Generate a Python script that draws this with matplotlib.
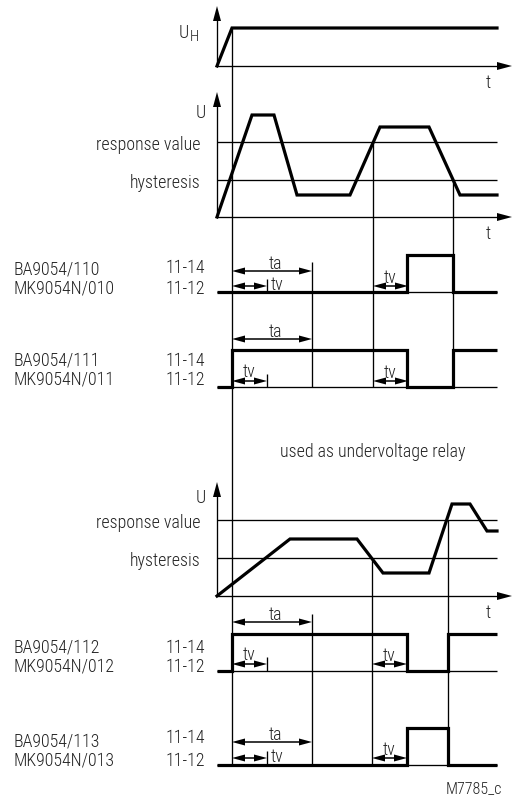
import matplotlib
matplotlib.use('Agg')
import matplotlib.pyplot as plt
from matplotlib.patches import Polygon
from matplotlib import font_manager as fm

# ---- pick a narrow sans font if one is installed ----
_names = {f.name for f in fm.fontManager.ttflist}
FAM, STR = 'DejaVu Sans', 'normal'
for pref in ['Liberation Sans Narrow', 'Roboto Condensed', 'Noto Sans Condensed',
             'Open Sans Condensed', 'Arial Narrow', 'DejaVu Sans Condensed']:
    if pref in _names:
        FAM = pref
        break
else:
    for f in fm.fontManager.ttflist:
        if f.stretch in ('condensed', 'semi-condensed') and f.style == 'normal' \
                and f.name in ('DejaVu Sans', 'Noto Sans', 'Roboto', 'Open Sans', 'Lato', 'Inter'):
            FAM, STR = f.name, f.stretch
            break
plt.rcParams['font.family'] = [FAM, 'DejaVu Sans']
plt.rcParams['font.stretch'] = STR
plt.rcParams['font.weight'] = 'light'

# ---------------- data (time in arbitrary units) ----------------
t_end = 28.0
t_on = 1.5          # supply switched on
tv = 3.5            # start-up / switching delay
ta = 8.0            # start-up suppression time

# supply voltage U_H
uh_t = [0.0, 1.5, 28.0]
uh_v = [0, 38, 38]

# measured voltage, overvoltage monitoring
ov_t = [0.0, 3.5, 5.7, 8.0, 13.3, 16.3, 21.2, 24.3, 28.0]
ov_v = [0, 102, 102, 22, 22, 90, 90, 22, 22]
ov_resp = 75
ov_hyst = 37
ov_cross = [15.6, 23.6]     # response value reached, hysteresis reached

# measured voltage, used as undervoltage relay
uv_t = [0.0, 7.3, 14.0, 16.6, 21.2, 23.5, 25.3, 27.0, 28.0]
uv_v = [0, 57, 57, 23, 23, 92, 92, 65, 65]
uv_resp = 76
uv_hyst = 38
uv_cross = [15.5, 23.1]

# relay contacts (0 = 11-12 closed, 1 = 11-14 closed)
relay_names = ["BA9054/110", "BA9054/111", "BA9054/112", "BA9054/113"]
relay_alt = ["MK9054N/010", "MK9054N/011", "MK9054N/012", "MK9054N/013"]
relay_t = [[0.0, 19.0, 23.6, 28.0],
           [0.0, 1.5, 19.0, 23.6, 28.0],
           [0.0, 1.5, 19.0, 23.1, 28.0],
           [0.0, 19.0, 23.1, 28.0]]
relay_s = [[0, 1, 0],
           [0, 1, 0, 1],
           [0, 1, 0, 1],
           [0, 1, 0]]

# ---------------- layout (pixels) ----------------
W, H = 513, 803
X0 = 217            # time origin in px
SC = 10.0           # px per time unit

fig = plt.figure(figsize=(W / 100, H / 100), dpi=100)
ax = fig.add_axes([0, 0, 1, 1])
ax.set_xlim(-X0 / SC, (W - X0) / SC)
ax.set_ylim(H, 0)
ax.axis('off')

# fit font size so that the label widths match the reference
_probe = ax.text(0, 0, 'MK9054N/010', fontsize=12.5)
fig.canvas.draw()
_w = _probe.get_window_extent().width
_probe.remove()
FS = min(14.0, 12.5 * 101.0 / _w)

K = 'black'
TXT = '#222222'
THIN = 0.95
THICK = 2.3


def px(d):
    return d / SC


def label(x, y, s, ha='left', size=None):
    ax.text(x, y, s, fontsize=size or FS, ha=ha, va='baseline', color=TXT)


def vline(t, y0, y1):
    ax.plot([t, t], [y0, y1], color=K, lw=THIN, solid_capstyle='butt')


def hline(t0, t1, y, lw=THIN):
    ax.plot([t0, t1], [y, y], color=K, lw=lw, solid_capstyle='butt')


def axes_arrows(base, tip):
    vline(0, base, tip + 12)
    ax.add_patch(Polygon([(0, tip), (px(-4), tip + 15), (px(4), tip + 15)],
                         closed=True, color=K, lw=0))
    hline(0, t_end, base)
    ax.add_patch(Polygon([(t_end + px(15), base), (t_end, base - 4), (t_end, base + 4)],
                         closed=True, color=K, lw=0))
    label(t_end - px(9), base + 21, 't', ha='center')


def dim_arrow(t0, t1, y):
    L, Wd = px(13), 3.5
    hline(t0 + L * 0.5, t1 - L * 0.5, y, lw=1.1)
    ax.add_patch(Polygon([(t0, y), (t0 + L, y - Wd), (t0 + L, y + Wd)],
                         closed=True, color=K, lw=0))
    ax.add_patch(Polygon([(t1, y), (t1 - L, y - Wd), (t1 - L, y + Wd)],
                         closed=True, color=K, lw=0))


LX = px(200 - X0)   # right edge of left labels

# ---- supply voltage ----
b1 = 67
axes_arrows(b1, 7)
ax.plot(uh_t, [b1 - v for v in uh_v], color=K, lw=THICK, solid_joinstyle='miter')
label(px(189 - X0), 38, 'U', ha='right')
label(px(190 - X0), 41, 'H', size=FS * 0.85)

# ---- overvoltage ----
b2 = 218
axes_arrows(b2, 93)
hline(0, t_end, b2 - ov_resp)
hline(0, t_end, b2 - ov_hyst)
ax.plot(ov_t, [b2 - v for v in ov_v], color=K, lw=THICK, solid_joinstyle='miter')
label(px(206 - X0), 118, 'U', ha='right')
label(LX, b2 - ov_resp + 7, 'response value', ha='right')
label(LX, b2 - ov_hyst + 7, 'hysteresis', ha='right')

# ---- undervoltage ----
b3 = 597
axes_arrows(b3, 483)
hline(0, t_end, b3 - uv_resp)
hline(0, t_end, b3 - uv_hyst)
ax.plot(uv_t, [b3 - v for v in uv_v], color=K, lw=THICK, solid_joinstyle='miter')
label(px(206 - X0), 503, 'U', ha='right')
label(LX, b3 - uv_resp + 7, 'response value', ha='right')
label(LX, b3 - uv_hyst + 7, 'hysteresis', ha='right')
label(px(373 - X0), 457, 'used as undervoltage relay', ha='center')

# ---- vertical marker lines ----
vline(t_on, b1 - uh_v[1], 766)
vline(ov_cross[0], b2 - ov_resp, 388)
vline(ov_cross[1], b2 - ov_hyst, 388)
vline(t_on + ta, 263, 388)
vline(uv_cross[0], b3 - uv_hyst, 766)
vline(uv_cross[1], b3 - uv_resp, 766)
vline(t_on + ta, 615, 766)

# ---- relay rows ----
bases = [293, 388, 672, 766]
hi = 37
ta_y = [272, 340, 623, 743]
tv_y = [287, 382, 665, 759]
name_y = [275, 366, 653, 747]
alt_y = [294, 385, 672, 766]
c14_y = [273, 366, 653, 743]
tv_inline = [True, False, False, True]
trip = [ov_cross[0], ov_cross[0], uv_cross[0], uv_cross[0]]

for i in range(4):
    b = bases[i]
    hline(0, t_end, b)
    xs, ys = [], []
    for j, s in enumerate(relay_s[i]):
        xs += [relay_t[i][j], relay_t[i][j + 1]]
        ys += [b - hi * s, b - hi * s]
    ax.plot(xs, ys, color=K, lw=THICK, solid_joinstyle='miter', solid_capstyle='butt')

    label(px(14 - X0), name_y[i], relay_names[i])
    label(px(14 - X0), alt_y[i], relay_alt[i])
    label(px(205 - X0), c14_y[i], '11-14', ha='right')
    label(px(205 - X0), alt_y[i], '11-12', ha='right')

    # ta
    dim_arrow(t_on, t_on + ta, ta_y[i])
    label(t_on + ta / 2 + px(3), ta_y[i] - 3, 'ta', ha='center')
    # tv at power on
    dim_arrow(t_on, t_on + tv, tv_y[i])
    vline(t_on + tv, tv_y[i] - 7, b)
    if tv_inline[i]:
        label(t_on + tv + px(4), tv_y[i] + 3, 'tv')
    else:
        label(t_on + tv / 2, tv_y[i] - 5, 'tv', ha='center')
    # tv after threshold crossing
    dim_arrow(trip[i], trip[i] + tv, tv_y[i])
    label(trip[i] + tv / 2, tv_y[i] - 4, 'tv', ha='center')

label(px(502 - X0), 793, 'M7785_c', ha='right', size=FS * 0.9)

fig.savefig('out.png', dpi=100)
